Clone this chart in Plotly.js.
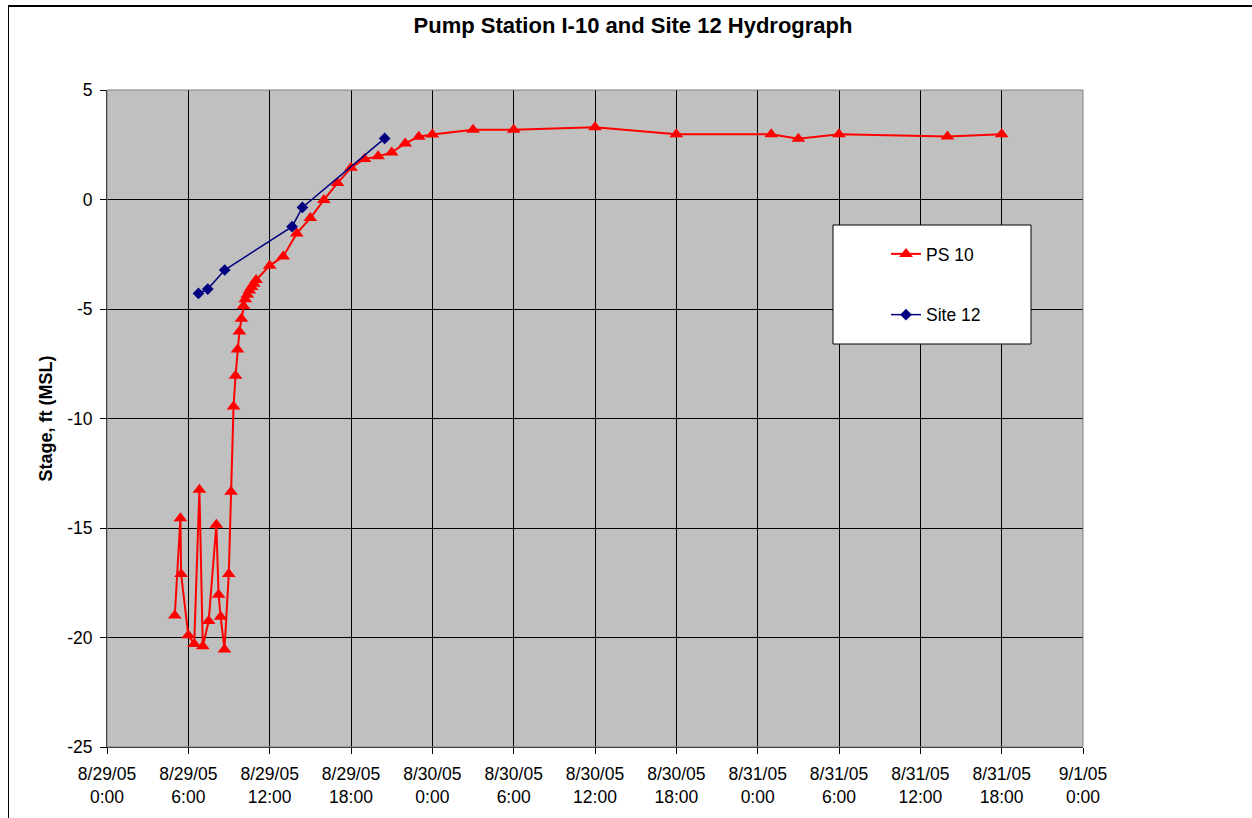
<!DOCTYPE html>
<html>
<head>
<meta charset="utf-8">
<script src="https://cdn.plot.ly/plotly-3.0.1.min.js"></script>
<style>
html,body{margin:0;padding:0;background:#fff;overflow:hidden;}
#chart{position:absolute;left:0;top:0;width:1252px;height:818px;}
#frame{position:absolute;left:8px;top:5px;width:1400px;height:1000px;border-left:1px solid #000;border-top:2px solid #000;pointer-events:none;}
</style>
</head>
<body>
<div id="chart"></div>
<div id="frame"></div>
<script>
// PS 10 readings
const ps10Times = [
  "2005-08-29 05:00","2005-08-29 05:25","2005-08-29 05:28","2005-08-29 06:00","2005-08-29 06:26",
  "2005-08-29 06:49","2005-08-29 07:04","2005-08-29 07:30","2005-08-29 08:04","2005-08-29 08:14",
  "2005-08-29 08:23","2005-08-29 08:40","2005-08-29 08:59","2005-08-29 09:09","2005-08-29 09:20",
  "2005-08-29 09:29","2005-08-29 09:38","2005-08-29 09:46","2005-08-29 09:55","2005-08-29 10:04",
  "2005-08-29 10:12","2005-08-29 10:21","2005-08-29 10:30","2005-08-29 10:40","2005-08-29 10:50",
  "2005-08-29 11:00","2005-08-29 12:00","2005-08-29 13:00","2005-08-29 14:00","2005-08-29 15:00",
  "2005-08-29 16:00","2005-08-29 17:00","2005-08-29 18:00","2005-08-29 19:00","2005-08-29 20:00",
  "2005-08-29 21:00","2005-08-29 22:00","2005-08-29 23:00","2005-08-30 00:00","2005-08-30 03:00",
  "2005-08-30 06:00","2005-08-30 12:00","2005-08-30 18:00","2005-08-31 01:00","2005-08-31 03:00",
  "2005-08-31 06:00","2005-08-31 14:00","2005-08-31 18:00"
];
const ps10Stage = [
  -19.0,-14.55,-17.1,-19.9,-20.3,
  -13.25,-20.4,-19.25,-14.85,-18.05,
  -19.05,-20.55,-17.1,-13.35,-9.45,
  -8.05,-6.85,-6.03,-5.45,-4.86,
  -4.55,-4.35,-4.15,-4.0,-3.85,
  -3.68,-3.02,-2.6,-1.55,-0.85,
  -0.02,0.75,1.45,1.85,1.97,
  2.15,2.56,2.87,2.97,3.18,
  3.18,3.3,2.98,2.98,2.77,
  2.98,2.88,2.98
];
// Site 12 readings
const site12Times = [
  "2005-08-29 06:45","2005-08-29 07:26","2005-08-29 08:41",
  "2005-08-29 13:39","2005-08-29 14:25","2005-08-29 20:29"
];
const site12Stage = [-4.29,-4.09,-3.22,-1.24,-0.36,2.79];

// Axis ticks
const xTickVals = [
  "2005-08-29 00:00","2005-08-29 06:00","2005-08-29 12:00","2005-08-29 18:00",
  "2005-08-30 00:00","2005-08-30 06:00","2005-08-30 12:00","2005-08-30 18:00",
  "2005-08-31 00:00","2005-08-31 06:00","2005-08-31 12:00","2005-08-31 18:00",
  "2005-09-01 00:00"
];
const xTickText = [
  "8/29/05<br>0:00","8/29/05<br>6:00","8/29/05<br>12:00","8/29/05<br>18:00",
  "8/30/05<br>0:00","8/30/05<br>6:00","8/30/05<br>12:00","8/30/05<br>18:00",
  "8/31/05<br>0:00","8/31/05<br>6:00","8/31/05<br>12:00","8/31/05<br>18:00",
  "9/1/05<br>0:00"
];
const yTickVals = [5, 0, -5, -10, -15, -20, -25];
const yTickText = ["5", "0", "-5", "-10", "-15", "-20", "-25"];

const FONT = "Liberation Sans, Arial, sans-serif";

const traces = [
  {
    x: ps10Times, y: ps10Stage, name: "PS 10", type: "scatter", mode: "lines+markers",
    line: {color: "#FF0000", width: 2},
    marker: {symbol: "triangle-up", size: 12, color: "#FF0000"},
    legendgroup: "a"
  },
  {
    x: site12Times, y: site12Stage, name: "Site 12", type: "scatter", mode: "lines+markers",
    line: {color: "#000080", width: 1.5},
    marker: {symbol: "diamond", size: 9, color: "#000080"},
    legendgroup: "b"
  }
];

const layout = {
  width: 1252, height: 818,
  margin: {l: 107, r: 169, t: 90, b: 71, pad: 0},
  paper_bgcolor: "rgba(0,0,0,0)",
  plot_bgcolor: "#C0C0C0",
  font: {family: FONT, color: "#000", size: 17.5},
  title: {
    text: "<b>Pump Station I-10 and Site 12 Hydrograph</b>",
    font: {family: FONT, size: 22, color: "#000"},
    xref: "container", x: 0.5056, xanchor: "center",
    yref: "container", y: 0.969, yanchor: "middle"
  },
  showlegend: true,
  legend: {
    x: (886 - 107) / 976, xanchor: "left",
    y: (747 - 236) / 657, yanchor: "top",
    bgcolor: "rgba(0,0,0,0)", borderwidth: 0,
    font: {family: FONT, size: 17.5, color: "#000"},
    traceorder: "grouped", tracegroupgap: 35,
    itemwidth: 30
  },
  xaxis: {
    type: "date",
    range: ["2005-08-29 00:00", "2005-09-01 00:00"],
    tickmode: "array", tickvals: xTickVals, ticktext: xTickText,
    showgrid: true, gridcolor: "#000", gridwidth: 1,
    showline: true, linecolor: "#000", linewidth: 1,
    ticks: "outside", ticklen: 6, tickcolor: "#000", tickwidth: 1,
    ticklabelstandoff: 5,
    tickfont: {family: FONT, size: 17.5, color: "#000"},
    zeroline: false, fixedrange: true
  },
  yaxis: {
    range: [-25, 5],
    tickmode: "array", tickvals: yTickVals, ticktext: yTickText,
    showgrid: true, gridcolor: "#000", gridwidth: 1,
    showline: true, linecolor: "#000", linewidth: 1,
    ticks: "outside", ticklen: 6, tickcolor: "#000", tickwidth: 1,
    ticklabelstandoff: 4,
    tickfont: {family: FONT, size: 17.5, color: "#000"},
    zeroline: false, fixedrange: true,
    title: {text: "<b>Stage, ft (MSL)</b>", font: {family: FONT, size: 18, color: "#000"}, standoff: 9}
  },
  shapes: [
    {type: "rect", xref: "paper", yref: "paper", x0: 0, x1: 1, y0: 0, y1: 1,
     line: {color: "#808080", width: 1}, fillcolor: "rgba(0,0,0,0)", layer: "above"},
    {type: "rect", xref: "paper", yref: "paper",
     x0: (833 - 107) / 976, x1: (1031 - 107) / 976,
     y0: (747 - 344) / 657, y1: (747 - 225) / 657,
     line: {color: "#000", width: 1}, fillcolor: "#FFFFFF", layer: "above"}
  ]
};

Plotly.newPlot("chart", traces, layout, {displayModeBar: false, staticPlot: true});
</script>
</body>
</html>
